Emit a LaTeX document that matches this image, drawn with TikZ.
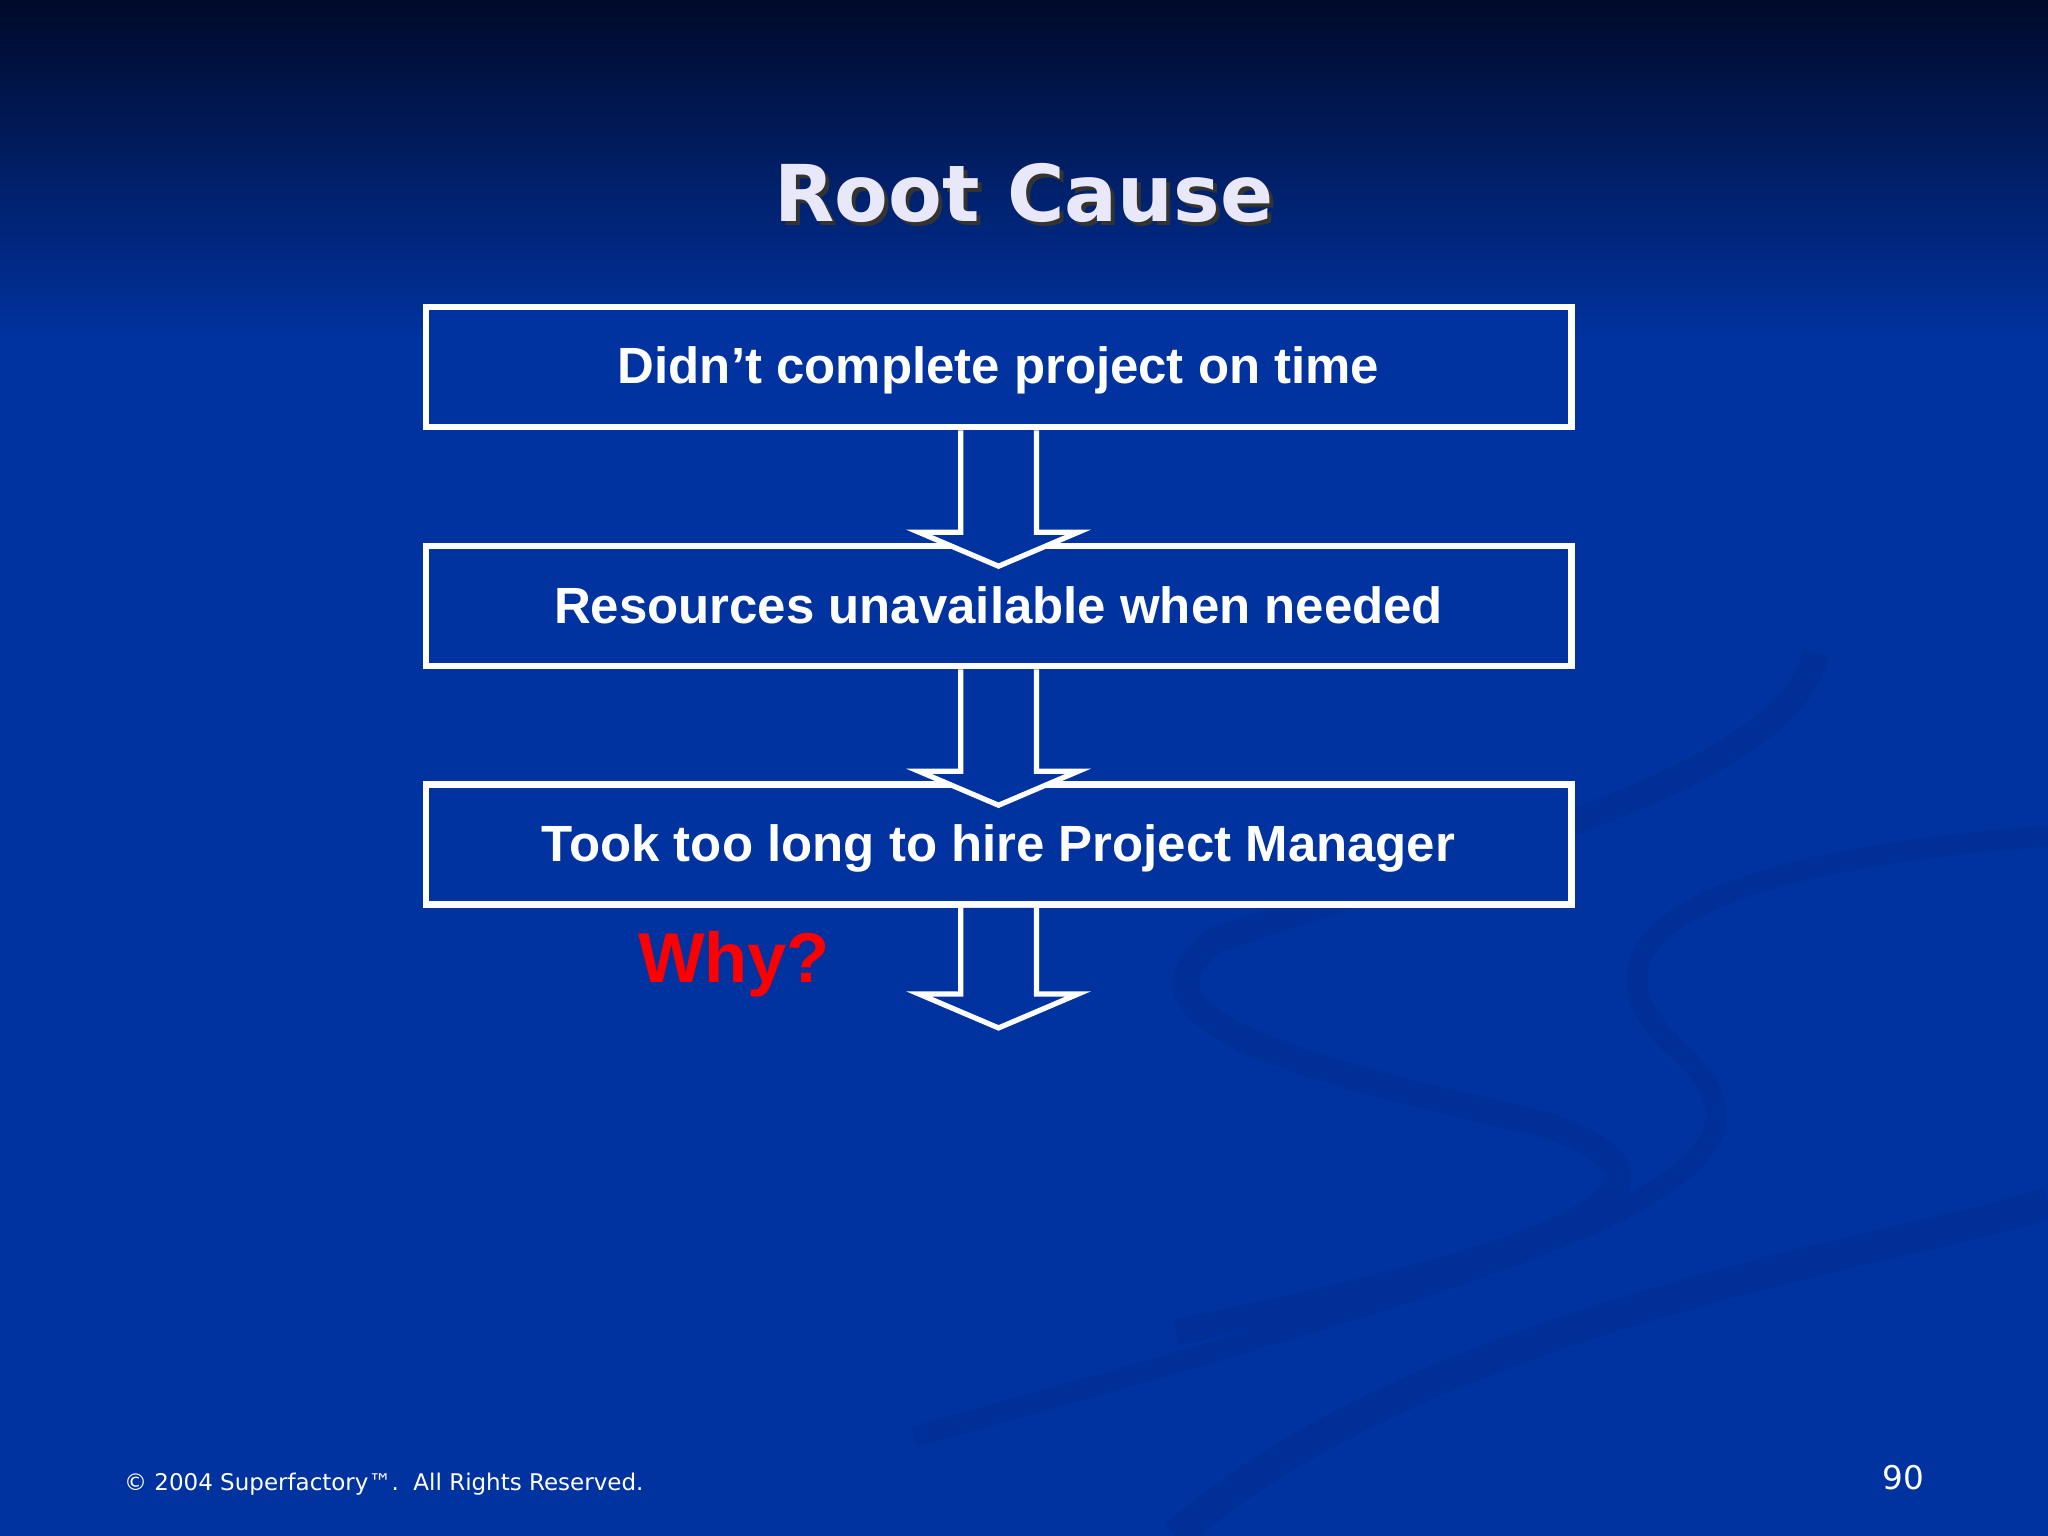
\documentclass[tikz,border=0pt]{standalone}
\usepackage{fontspec}
\setmainfont{Liberation Sans}
\newfontfamily\verd{DejaVu Sans}
\usetikzlibrary{calc}
\definecolor{bgblue}{HTML}{0033A0}
\definecolor{bgdark}{HTML}{000A2A}
\definecolor{boxblue}{HTML}{0033A0}
\definecolor{swoosh}{HTML}{002F98}
\definecolor{titlec}{HTML}{E8E8F8}
\tikzset{
  boxnode/.style={draw=white,line width=2.5pt,fill=boxblue,minimum width=438.5pt,minimum height=46pt,inner sep=0pt,text height=13pt,text depth=0pt,text=white,font=\bfseries\fontsize{19.5}{22}\selectfont},
  arrowshape/.style={draw=white,line width=2pt,fill=boxblue,line join=miter}
}
\begin{document}
\begin{tikzpicture}[x=0.5pt,y=-0.5pt]
\useasboundingbox (0,0) rectangle (1568,1176);
\shade[top color=bgdark,bottom color=bgblue] (0,0) rectangle (1568,260);
\fill[bgblue] (0,259) rectangle (1568,1176);
% decorative swooshes
\draw[swoosh,line width=12pt] (900,1176) .. controls (1100,1000) and (1500,950) .. (1568,920);
\draw[swoosh,line width=8pt] (1568,640) .. controls (1300,660) and (1200,720) .. (1280,800) .. controls (1400,900) and (1200,960) .. (700,1100);
\draw[swoosh,line width=10pt] (1390,500) .. controls (1370,600) and (1100,660) .. (930,720) .. controls (850,780) and (1000,820) .. (1180,860) .. controls (1300,900) and (1250,950) .. (900,1020);
% title
\node[font=\verd\bfseries\fontsize{30}{36}\selectfont,text=black!80] at (787,151) {Root Cause};
\node (title) [font=\verd\bfseries\fontsize{30}{36}\selectfont,text=titlec] at (784,148) {Root Cause};
% boxes
\node (b1) [boxnode] at (764.5,281) {Didn’t complete project on time};
\node (b2) [boxnode] at (764.5,464) {Resources unavailable when needed};
\node (b3) [boxnode] at (764.5,646.5) {Took too long to hire Project Manager};
% arrows
\foreach \s/\len in {b1/104,b2/104,b3/92}{
  \draw[arrowshape] ($(\s.south)+(-29,0)$) -- ++(0,\len-26) -- ++(-32,0) -- ($(\s.south)+(0,\len)$) -- ($(\s.south)+(61,\len-26)$) -- ++(-32,0) -- ($(\s.south)+(29,0)$);
}
\node (why) [text=red,font=\bfseries\fontsize{27}{30}\selectfont] at (562,738) {Why?};
\node (foot) [anchor=west,text=white,font=\verd\fontsize{8.8}{10}\selectfont] at (88,1136) {© 2004 Superfactory™.\ \ All Rights Reserved.};
\node (page) [text=white,font=\verd\fontsize{12.5}{14}\selectfont] at (1457,1131) {90};
\end{tikzpicture}
\end{document}
